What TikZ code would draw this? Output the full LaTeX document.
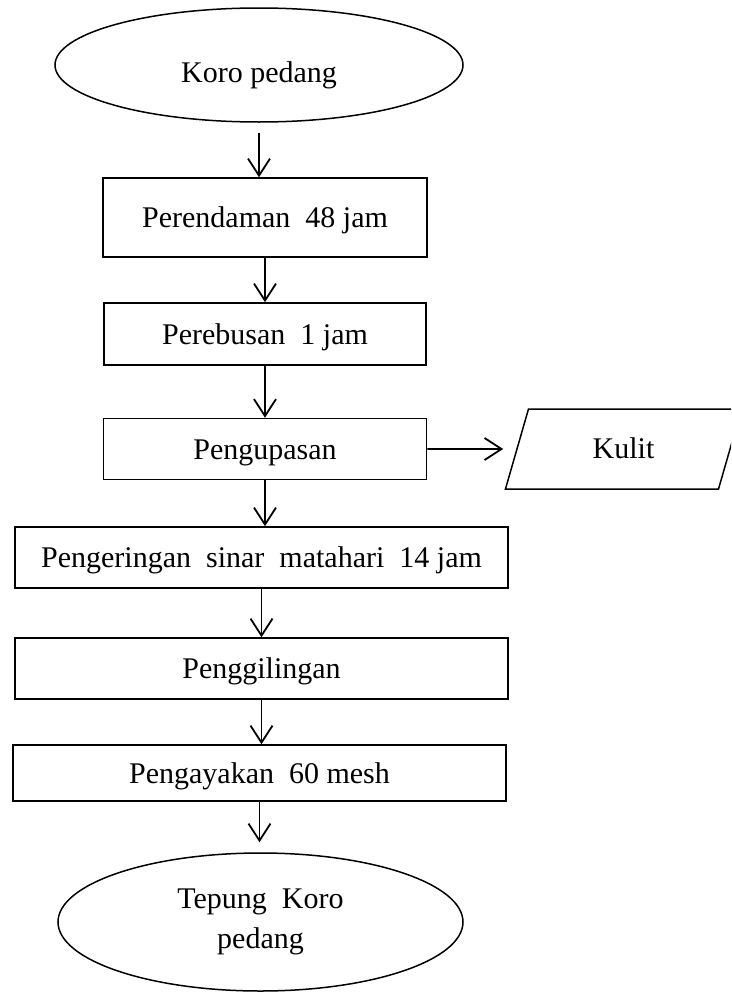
\documentclass[tikz,border=0pt]{standalone}
\usepackage{fontspec}
\setmainfont{Liberation Serif}
\usetikzlibrary{shapes.geometric,arrows.meta}

\begin{document}
\begin{tikzpicture}[x=1pt,y=-1pt,
    every node/.style={font=\fontsize{30}{40}\selectfont},
    proses/.style={draw,rectangle,line width=1.5pt,inner sep=0pt,text height=26pt,text depth=6pt},
    ujung/.style={draw,ellipse,line width=1.5pt,inner sep=0pt,align=center},
    keluar/.style={draw,trapezium,trapezium left angle=76,trapezium right angle=104,
      trapezium stretches=true,line width=1.5pt,inner sep=0pt,text height=24pt,text depth=6pt},
    alur/.style={-{Straight Barb[length=17pt,width=22pt]},line width=1.8pt}]
  \useasboundingbox (0,0) rectangle (731,996);
  \clip (0,0) rectangle (731,996);
  \node[ujung,minimum width=408pt,minimum height=114pt,text height=40pt,text depth=6pt] (koro) at (259,65) {Koro pedang};
  \node[proses,minimum width=324pt,minimum height=79pt] (rendam) at (265,217.5) {Perendaman\ \ 48 jam};
  \node[proses,minimum width=322pt,minimum height=62pt] (rebus) at (265,334) {Perebusan\ \ 1 jam};
  \node[proses,minimum width=323pt,minimum height=61pt] (kupas) at (265,449) {Pengupasan};
  \node[keluar,minimum width=237pt,minimum height=80pt] (kulit) at (623.5,449) {Kulit};
  \node[proses,minimum width=493pt,minimum height=61pt] (kering) at (261.5,557.5) {Pengeringan\ \ sinar\ \ matahari\ \ 14 jam};
  \node[proses,minimum width=493pt,minimum height=61pt] (giling) at (261.5,668.5) {Penggilingan};
  \node[proses,minimum width=493pt,minimum height=56pt] (ayak) at (259.5,773) {Pengayakan\ \ 60 mesh};
  \node[ujung,minimum width=405pt,minimum height=138pt] (tepung) at (260.5,922) {Tepung\ \ Koro\\pedang};

  \draw[alur,shorten <=10pt] (koro) -- (koro |- rendam.north);
  \draw[alur] (rendam) -- (rebus);
  \draw[alur] (rebus) -- (kupas);
  \draw[alur,shorten >=13pt] (kupas) -- (kulit);
  \draw[alur] (kupas) -- (kupas |- kering.north);
  \draw[alur] (kering) -- (giling);
  \draw[alur] (giling) -- (giling |- ayak.north);
  \draw[alur,shorten >=10pt] (ayak) -- (ayak |- tepung.north);
\end{tikzpicture}
\end{document}
